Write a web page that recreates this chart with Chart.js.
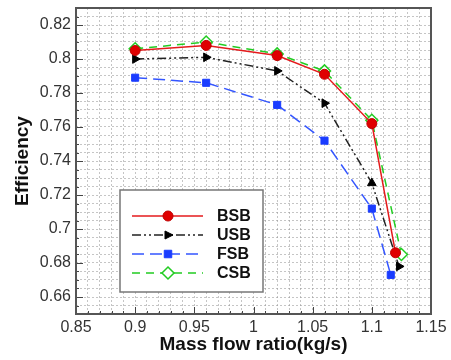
<!DOCTYPE html>
<html>
<head>
<meta charset="utf-8">
<script src="https://cdn.jsdelivr.net/npm/chart.js@4"></script>
<style>
  html, body { margin: 0; padding: 0; background: #fff; }
  #wrap { width: 451px; height: 360px; }
</style>
</head>
<body>
<div id="wrap"><canvas id="effChart" width="451" height="360"></canvas></div>
<script>
// data
const xBSB = [0.9, 0.96, 1.02, 1.06, 1.1, 1.12];
const yBSB = [0.805, 0.808, 0.802, 0.791, 0.762, 0.686];
const xUSB = [0.9, 0.96, 1.02, 1.06, 1.1, 1.123];
const yUSB = [0.800, 0.801, 0.793, 0.774, 0.727, 0.678];
const xFSB = [0.9, 0.96, 1.02, 1.06, 1.1, 1.116];
const yFSB = [0.789, 0.786, 0.773, 0.752, 0.712, 0.673];
const xCSB = [0.9, 0.96, 1.02, 1.06, 1.1, 1.125];
const yCSB = [0.806, 0.810, 0.803, 0.793, 0.764, 0.685];
const seriesNames = ['BSB', 'USB', 'FSB', 'CSB'];
const xTickLabels = ['0.85', '0.9', '0.95', '1', '1.05', '1.1', '1.15'];
const yTickLabels = ['0.66', '0.68', '0.7', '0.72', '0.74', '0.76', '0.78', '0.8', '0.82'];

const FONT = "'Liberation Sans', Arial, sans-serif";

function pts(xs, ys) {
  return xs.map((x, i) => ({ x: x, y: ys[i] }));
}

// only the major values get a label, the rest just give grid lines
function labelFor(list, value) {
  const hit = list.find(t => Math.abs(Number(t) - value) < 1e-6);
  return hit === undefined ? '' : hit;
}

// frame + inward tick marks
const framePlugin = {
  id: 'frame',
  afterDatasetsDraw(chart) {
    const { ctx, chartArea: a, scales } = chart;
    ctx.save();
    ctx.strokeStyle = '#444';
    ctx.lineWidth = 1;
    scales.x.ticks.forEach((t, i) => {
      const px = Math.round(scales.x.getPixelForTick(i)) + 0.5;
      const len = labelFor(xTickLabels, t.value) ? 7 : 3;
      ctx.beginPath();
      ctx.moveTo(px, a.bottom);
      ctx.lineTo(px, a.bottom - len);
      ctx.stroke();
    });
    scales.y.ticks.forEach((t, i) => {
      const py = Math.round(scales.y.getPixelForTick(i)) + 0.5;
      const len = labelFor(yTickLabels, t.value) ? 7 : 3;
      ctx.beginPath();
      ctx.moveTo(a.left, py);
      ctx.lineTo(a.left + len, py);
      ctx.stroke();
    });
    ctx.strokeStyle = '#555';
    ctx.lineWidth = 2;
    ctx.strokeRect(a.left, a.top, a.right - a.left, a.bottom - a.top);
    ctx.restore();
  }
};

function drawMarker(ctx, ds, x, y) {
  const r = ds.pointRadius;
  ctx.save();
  ctx.setLineDash([]);
  ctx.fillStyle = ds.pointBackgroundColor;
  ctx.strokeStyle = ds.pointBorderColor;
  ctx.lineWidth = ds.pointBorderWidth;
  ctx.beginPath();
  if (ds.pointStyle === 'circle') {
    ctx.arc(x, y, r, 0, Math.PI * 2);
  } else if (ds.pointStyle === 'rect') {
    ctx.rect(x - r * 0.75, y - r * 0.75, r * 1.5, r * 1.5);
  } else if (ds.pointStyle === 'rectRot') {
    ctx.moveTo(x, y - r); ctx.lineTo(x + r, y); ctx.lineTo(x, y + r); ctx.lineTo(x - r, y); ctx.closePath();
  } else {
    // triangle pointing right
    ctx.moveTo(x + r, y); ctx.lineTo(x - r * 0.6, y - r * 0.8); ctx.lineTo(x - r * 0.6, y + r * 0.8); ctx.closePath();
  }
  ctx.fill();
  ctx.stroke();
  ctx.restore();
}

// legend box inside the plot
const boxLegend = {
  id: 'boxLegend',
  afterDraw(chart) {
    const ctx = chart.ctx;
    const bx = 120, by = 190, bw = 143, bh = 102;
    ctx.save();
    ctx.fillStyle = '#fff';
    ctx.fillRect(bx, by, bw, bh);
    ctx.strokeStyle = '#777';
    ctx.lineWidth = 1.5;
    ctx.strokeRect(bx, by, bw, bh);
    chart.data.datasets.forEach((ds, i) => {
      const y = 216 + i * 19;
      ctx.strokeStyle = ds.borderColor;
      ctx.lineWidth = ds.borderWidth;
      ctx.setLineDash(ds.borderDash || []);
      ctx.beginPath();
      ctx.moveTo(132, y);
      ctx.lineTo(203, y);
      ctx.stroke();
      drawMarker(ctx, ds, 168, y);
      ctx.setLineDash([]);
      ctx.fillStyle = '#111';
      ctx.font = 'bold 16px ' + FONT;
      ctx.textBaseline = 'middle';
      ctx.fillText(ds.label, 217, y + 1);
    });
    ctx.restore();
  }
};

new Chart(document.getElementById('effChart').getContext('2d'), {
  type: 'scatter',
  data: {
    datasets: [
      {
        label: seriesNames[0],
        data: pts(xBSB, yBSB),
        showLine: true,
        borderColor: '#e41a1c',
        borderWidth: 1.5,
        pointStyle: 'circle',
        pointRadius: 5,
        pointBackgroundColor: '#e00000',
        pointBorderColor: '#c00000',
        pointBorderWidth: 1
      },
      {
        label: seriesNames[1],
        data: pts(xUSB, yUSB),
        showLine: true,
        borderColor: '#222',
        borderWidth: 1.5,
        borderDash: [9, 3, 2, 3, 2, 3],
        pointStyle: 'triangle',
        pointRotation: [90, 90, 90, -30, 0, 90],
        pointRadius: 5,
        pointBackgroundColor: '#000',
        pointBorderColor: '#000',
        pointBorderWidth: 1
      },
      {
        label: seriesNames[2],
        data: pts(xFSB, yFSB),
        showLine: true,
        borderColor: '#3355ff',
        borderWidth: 1.5,
        borderDash: [12, 6],
        pointStyle: 'rect',
        pointRadius: 5,
        pointBackgroundColor: '#1a3cff',
        pointBorderColor: '#1a3cff',
        pointBorderWidth: 1
      },
      {
        label: seriesNames[3],
        data: pts(xCSB, yCSB),
        showLine: true,
        borderColor: '#22cc22',
        borderWidth: 1.5,
        borderDash: [8, 6],
        pointStyle: 'rectRot',
        pointRadius: 6,
        pointBackgroundColor: '#fff',
        pointBorderColor: '#22cc22',
        pointBorderWidth: 1.5
      }
    ]
  },
  options: {
    responsive: false,
    animation: false,
    layout: { padding: { top: 8, right: 20, left: 0, bottom: 0 } },
    plugins: {
      legend: { display: false },
      tooltip: { enabled: false }
    },
    scales: {
      x: {
        type: 'linear',
        min: 0.85,
        max: 1.15,
        afterFit(scale) {
          scale.height = 46;
          scale.paddingLeft = 0;
          scale.paddingRight = 0;
        },
        grid: { color: 'rgba(150,150,150,0.55)', drawTicks: false },
        border: { display: false, dash: [2, 2] },
        ticks: {
          stepSize: 0.01,
          autoSkip: false,
          maxRotation: 0,
          padding: 4,
          color: '#333',
          font: { family: FONT, size: 16 },
          callback: v => labelFor(xTickLabels, v)
        },
        title: {
          display: true,
          text: 'Mass flow ratio(kg/s)',
          color: '#111',
          font: { family: FONT, size: 19, weight: 'bold' },
          padding: { top: 0, bottom: 4 }
        }
      },
      y: {
        type: 'linear',
        min: 0.65,
        max: 0.83,
        afterFit(scale) {
          scale.width = 76;
          scale.paddingTop = 0;
          scale.paddingBottom = 0;
        },
        grid: { color: 'rgba(150,150,150,0.55)', drawTicks: false },
        border: { display: false, dash: [2, 2] },
        ticks: {
          stepSize: 0.005,
          autoSkip: false,
          padding: 5,
          color: '#333',
          font: { family: FONT, size: 16 },
          callback: v => labelFor(yTickLabels, v)
        },
        title: {
          display: true,
          text: 'Efficiency',
          color: '#111',
          font: { family: FONT, size: 19, weight: 'bold' },
          padding: { top: 11, bottom: 0 }
        }
      }
    }
  },
  plugins: [framePlugin, boxLegend]
});
</script>
</body>
</html>
